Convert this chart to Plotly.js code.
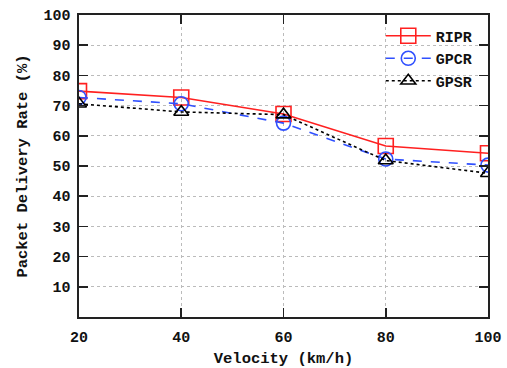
<!DOCTYPE html>
<html><head><meta charset="utf-8">
<script src="https://cdn.plot.ly/plotly-3.0.1.min.js"></script>
<style>body{margin:0;background:#fff}#c{width:507px;height:368px}</style>
</head><body><div id="c"></div>
<script>
const velocity = [20, 40, 60, 80, 100];
const ripr = [74.8, 72.7, 67.2, 56.6, 54.2];
const gpcr = [72.7, 70.6, 64.2, 52.3, 50.3];
const gpsr = [70.6, 67.9, 67.0, 51.8, 47.6];
const yTicks = [10, 20, 30, 40, 50, 60, 70, 80, 90, 100];
const xTicks = [20, 40, 60, 80, 100];

const fam = 'Courier New, Nimbus Mono PS, FreeMono, Liberation Mono, monospace';
const tickFont = {family: fam, size: 15, color: '#111', weight: 'bold'};
const titleFont = {family: fam, size: 15.5, color: '#111', weight: 'bold'};
function tr(name, y, color, dash, symbol, size) {
  return {x: velocity, y: y, name: name, type: 'scatter', mode: 'lines+markers',
    line: {color: color, width: 1.6, dash: dash},
    marker: {symbol: symbol, size: size, color: color, line: {color: color, width: 1.6}}};
}
const data = [
  tr('RIPR', ripr, '#ff2020', 'solid', 'square-open', 15),
  tr('GPCR', gpcr, '#3050ff', 'dash', 'circle-open', 14),
  tr('GPSR', gpsr, '#000000', 'dot', 'triangle-up-open', 13)
];
const axisBase = {showline: true, linecolor: '#222', linewidth: 1.6, mirror: 'ticks',
  ticks: 'inside', ticklen: 9, tickwidth: 1.6, tickcolor: '#222',
  showgrid: true, gridcolor: '#bbb', griddash: 'dot', gridwidth: 1, zeroline: false,
  tickfont: tickFont};
const layout = {
  width: 507, height: 368,
  margin: {l: 79, r: 19, t: 15, b: 51},
  paper_bgcolor: '#fff', plot_bgcolor: '#fff',
  font: {family: fam, size: 15, color: '#111'},
  showlegend: true,
  legend: {x: 0.975, y: 0.985, xanchor: 'right', yanchor: 'top', bgcolor: 'rgba(0,0,0,0)',
    font: tickFont, tracegroupgap: 0, itemwidth: 45},
  xaxis: Object.assign({}, axisBase, {range: [20, 100], tickvals: xTicks, ticktext: xTicks.map(String),
    ticklabelstandoff: 5,
    title: {text: 'Velocity (km/h)', font: titleFont, standoff: 10}}),
  yaxis: Object.assign({}, axisBase, {range: [0, 100], tickvals: yTicks, ticktext: yTicks.map(String),
    ticklabelstandoff: 4,
    title: {text: 'Packet Delivery Rate (%)', font: titleFont, standoff: 12}})
};
Plotly.newPlot('c', data, layout, {displayModeBar: false, staticPlot: true});
</script></body></html>
